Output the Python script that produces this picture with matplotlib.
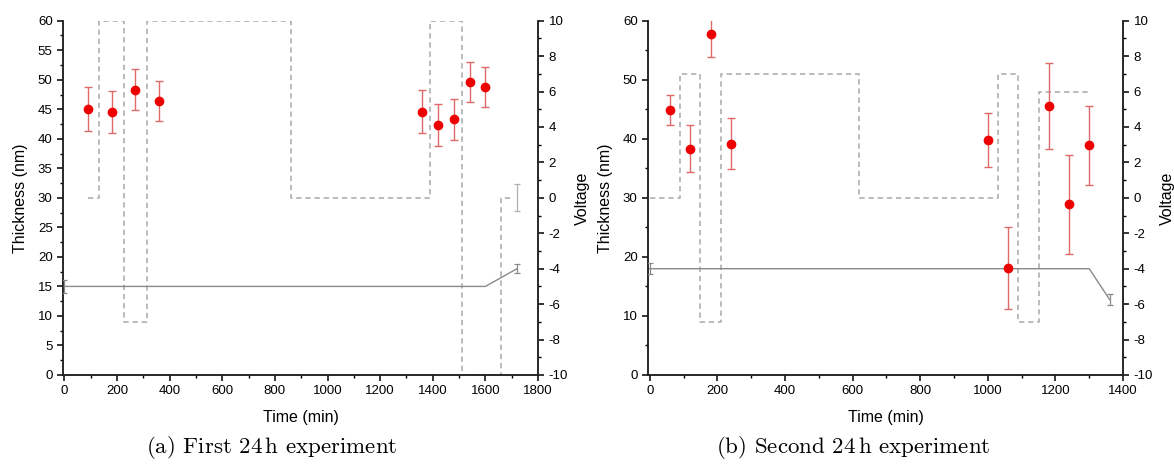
import matplotlib

matplotlib.use("Agg")
import matplotlib.pyplot as plt
from matplotlib.ticker import MultipleLocator

plt.rcParams["font.family"] = ["Liberation Sans", "DejaVu Sans"]
plt.rcParams["mathtext.fontset"] = "cm"
plt.rcParams["axes.unicode_minus"] = False

# --- first 24 h experiment ---
a_time = [90, 180, 270, 360, 1360, 1420, 1480, 1540, 1600]
a_thick = [45.0, 44.5, 48.3, 46.4, 44.6, 42.3, 43.3, 49.6, 48.7]
a_err = [3.7, 3.6, 3.5, 3.4, 3.6, 3.6, 3.5, 3.4, 3.4]
a_ref_time = [0, 1600, 1720]
a_ref_thick = [15.0, 15.0, 18.0]
a_ref_err = [1.1, 0.0, 0.75]
a_extra_time = [1720]
a_extra_thick = [30.0]
a_extra_err = [2.3]
a_volt_time = [90, 133, 225, 315, 860, 1390, 1510, 1660, 1705]
a_volt = [0, 10, -7, 10, 0, 10, -10, 0, 0]

# --- second 24 h experiment ---
b_time = [60, 120, 180, 240, 1000, 1060, 1180, 1240, 1300]
b_thick = [44.9, 38.3, 57.7, 39.2, 39.8, 18.1, 45.6, 28.9, 38.9]
b_err = [2.6, 4.0, 3.8, 4.4, 4.6, 7.0, 7.3, 8.4, 6.7]
b_ref_time = [0, 1300, 1360]
b_ref_thick = [18.0, 18.0, 12.8]
b_ref_err = [0.9, 0.0, 1.0]
b_volt_time = [0, 90, 150, 210, 620, 1030, 1090, 1150, 1300]
b_volt = [0, 7, -7, 7, 0, 7, -7, 6, 6]

RED = "#ee0000"
RED_ERR = "#e06a6a"
GREY = "#8a8a8a"
DASH = "#a8a8a8"
TICK_FS = 9.5
LABEL_FS = 11.5


def style_ticks(ax):
    ax.spines["top"].set_visible(False)
    for s in ax.spines.values():
        s.set_linewidth(1.1)
        s.set_color("#222222")
    ax.tick_params(which="major", direction="out", length=4.5, width=1.1, labelsize=TICK_FS, pad=3)
    ax.tick_params(which="minor", direction="out", length=2.5, width=1.0)


def draw_panel(ax, xmax, ymajor, yminor, t, y, e, rt, ry, re, vt, v, extra=None):
    style_ticks(ax)
    ax.xaxis.set_major_locator(MultipleLocator(200))
    ax.xaxis.set_minor_locator(MultipleLocator(100))
    ax.yaxis.set_major_locator(MultipleLocator(ymajor))
    ax.yaxis.set_minor_locator(MultipleLocator(yminor))
    ax.set_xlim(-5, xmax)
    ax.set_ylim(0, 60)
    ax.set_xlabel("Time (min)", fontsize=LABEL_FS, labelpad=9)
    ax.set_ylabel("Thickness (nm)", fontsize=LABEL_FS, labelpad=7)

    axv = ax.twinx()
    style_ticks(axv)
    axv.set_ylim(-10, 10)
    axv.yaxis.set_major_locator(MultipleLocator(2))
    axv.yaxis.set_minor_locator(MultipleLocator(1))
    axv.set_ylabel("Voltage", fontsize=LABEL_FS, labelpad=5)
    axv.plot(vt, v, drawstyle="steps-post", color=DASH, lw=1.1, dashes=(3.5, 2.5))

    ax.plot(rt, ry, color=GREY, lw=1.0, zorder=3)
    ends = [0, len(rt) - 1]
    ax.errorbar([rt[i] for i in ends], [ry[i] for i in ends], yerr=[re[i] for i in ends],
                fmt="none", ecolor=GREY, elinewidth=0.9, capsize=2.5, capthick=0.9, zorder=3)
    if extra is not None:
        ex_t, ex_y, ex_e = extra
        ax.errorbar(ex_t, ex_y, yerr=ex_e, fmt="none", ecolor="#b0b0b0",
                    elinewidth=0.9, capsize=2.5, capthick=0.9, zorder=3)
    ax.errorbar(t, y, yerr=e, fmt="o", color=RED, ms=6, mec=RED, ecolor=RED_ERR,
                elinewidth=1.0, capsize=3, capthick=1.0, zorder=5)
    ax.set_zorder(axv.get_zorder() + 1)
    ax.patch.set_visible(False)


fig = plt.figure(figsize=(11.74, 4.66), dpi=100)
ax_a = fig.add_axes([0.0537, 0.1953, 0.4046, 0.7603])
ax_b = fig.add_axes([0.5520, 0.1953, 0.4046, 0.7603])

draw_panel(ax_a, 1800, 5, 2.5, a_time, a_thick, a_err, a_ref_time, a_ref_thick, a_ref_err,
           a_volt_time, a_volt, extra=(a_extra_time, a_extra_thick, a_extra_err))
draw_panel(ax_b, 1400, 10, 5, b_time, b_thick, b_err, b_ref_time, b_ref_thick, b_ref_err,
           b_volt_time, b_volt)

fig.text(0.2313, 0.040, r"(a) First 24$\,$h experiment", family="cmr10", fontsize=16.5,
         ha="center", va="center")
fig.text(0.7266, 0.040, r"(b) Second 24$\,$h experiment", family="cmr10", fontsize=16.5,
         ha="center", va="center")

fig.savefig("out.png", dpi=100)
